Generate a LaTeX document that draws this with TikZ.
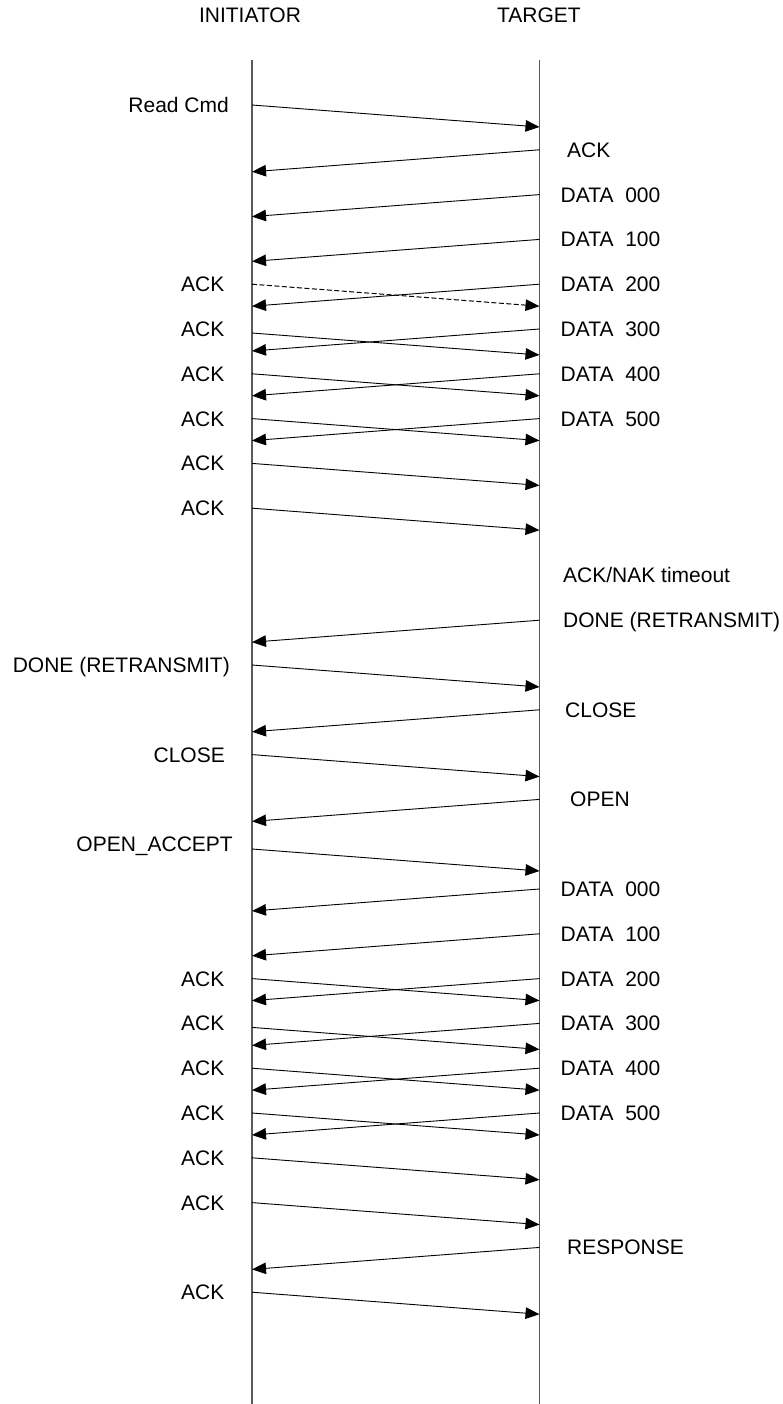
\documentclass[tikz,border=0pt]{standalone}
\usepackage{fontspec}
\setmainfont{Liberation Sans}
\usetikzlibrary{arrows.meta}
\newcommand\msgR[3][msg]{\coordinate (#2s) at (252,#3); \coordinate (#2e) at (539.5,#3+22); \draw[#1] (#2s) -- (#2e);}
\newcommand\msgL[2]{\coordinate (#1s) at (539.5,#2); \coordinate (#1e) at (252,#2+22); \draw[msg] (#1s) -- (#1e);}
\begin{document}
\begin{tikzpicture}[x=1pt,y=-1pt,
  lifeline/.style={draw=black!65, line width=1.1pt},
  msg/.style={draw=black, line width=0.9pt, -{Triangle[length=14pt,width=11.5pt]}},
  dmsg/.style={msg, line width=1pt, dash pattern=on 5pt off 2.5pt},
  lbl/.style={font=\fontsize{21}{24}\selectfont, inner sep=0pt, text height=15pt, text depth=0pt},
  llbl/.style={lbl, anchor=east},
  rlbl/.style={lbl, anchor=west}]
\useasboundingbox (0,0) rectangle (783,1404);
% headers
\node[lbl, anchor=center] (hI) at (250,15) {INITIATOR};
\node[lbl, anchor=center] (hT) at (539,15) {TARGET};
% lifelines
\coordinate (itop) at (252,60); \coordinate (ibot) at (252,1404);
\coordinate (ttop) at (539.5,60); \coordinate (tbot) at (539.5,1404);
\draw[lifeline] (itop) -- (ibot);
\draw[lifeline] (ttop) -- (tbot);
% messages, first block
\msgR{m1}{105}     \node[llbl] (l1) at (229,105) {Read Cmd};
\msgL{m2}{149.8}   \node[rlbl] (l2) at (567,149.8) {ACK};
\msgL{m3}{194.6}   \node[rlbl] (l3) at (560.5,194.6) {DATA~~000};
\msgL{m4}{239.4}   \node[rlbl] (l4) at (560.5,239.4) {DATA~~100};
\msgL{m5}{284.2}   \node[rlbl] (l5) at (560.5,284.2) {DATA~~200};
\msgR[dmsg]{a5}{284.2} \node[llbl] (k5) at (224.5,284.2) {ACK};
\msgL{m6}{329}     \node[rlbl] (l6) at (560.5,329) {DATA~~300};
\msgR{a6}{333}     \node[llbl] (k6) at (224.5,329) {ACK};
\msgL{m7}{373.8}   \node[rlbl] (l7) at (560.5,373.8) {DATA~~400};
\msgR{a7}{373.8}   \node[llbl] (k7) at (224.5,373.8) {ACK};
\msgL{m8}{418.6}   \node[rlbl] (l8) at (560.5,418.6) {DATA~~500};
\msgR{a8}{418.6}   \node[llbl] (k8) at (224.5,418.6) {ACK};
\msgR{a9}{463.4}   \node[llbl] (k9) at (224.5,463.4) {ACK};
\msgR{a10}{508.2}  \node[llbl] (k10) at (224.5,508.2) {ACK};
\node[rlbl] (tout) at (563,575.4) {ACK/NAK timeout};
% retransmit / reopen
\msgL{m11}{620.2}  \node[rlbl] (l11) at (563,620.2) {DONE (RETRANSMIT)};
\msgR{a12}{665}    \node[llbl] (k12) at (230,665) {DONE (RETRANSMIT)};
\msgL{m13}{709.8}  \node[rlbl] (l13) at (565,709.8) {CLOSE};
\msgR{a14}{754.6}  \node[llbl] (k14) at (225,754.6) {CLOSE};
\msgL{m15}{799.4}  \node[rlbl] (l15) at (570,799.4) {OPEN};
\msgR{a16}{849}    \node[llbl] (k16) at (233,844.2) {OPEN\_ACCEPT};
% second block
\msgL{m17}{889}    \node[rlbl] (l17) at (560.5,889) {DATA~~000};
\msgL{m18}{933.8}  \node[rlbl] (l18) at (560.5,933.8) {DATA~~100};
\msgL{m19}{978.6}  \node[rlbl] (l19) at (560.5,978.6) {DATA~~200};
\msgR{a19}{978.6}  \node[llbl] (k19) at (224.5,978.6) {ACK};
\msgL{m20}{1023.4} \node[rlbl] (l20) at (560.5,1023.4) {DATA~~300};
\msgR{a20}{1027.4} \node[llbl] (k20) at (224.5,1023.4) {ACK};
\msgL{m21}{1068.2} \node[rlbl] (l21) at (560.5,1068.2) {DATA~~400};
\msgR{a21}{1068.2} \node[llbl] (k21) at (224.5,1068.2) {ACK};
\msgL{m22}{1113}   \node[rlbl] (l22) at (560.5,1113) {DATA~~500};
\msgR{a22}{1113}   \node[llbl] (k22) at (224.5,1113) {ACK};
\msgR{a23}{1157.8} \node[llbl] (k23) at (224.5,1157.8) {ACK};
\msgR{a24}{1202.6} \node[llbl] (k24) at (224.5,1202.6) {ACK};
\msgL{m25}{1247.4} \node[rlbl] (l25) at (567,1247.4) {RESPONSE};
\msgR{a26}{1292.2} \node[llbl] (k26) at (224.5,1292.2) {ACK};
\end{tikzpicture}
\end{document}
